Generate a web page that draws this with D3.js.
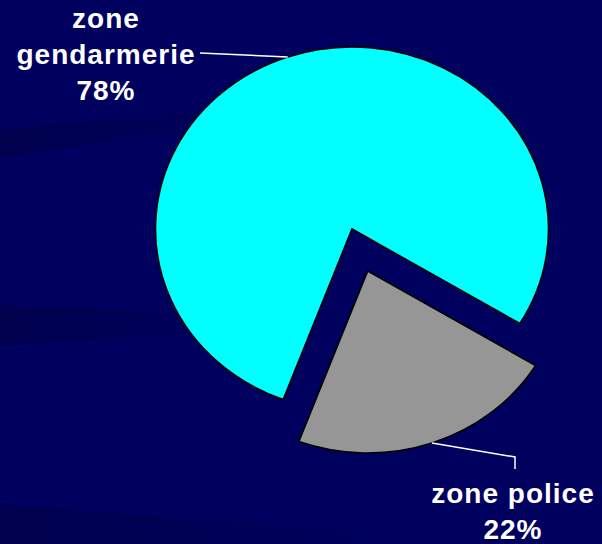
<!DOCTYPE html>
<meta charset="utf-8">
<script src="https://d3js.org/d3.v7.min.js"></script>
<style>
  body { margin: 0; background: #00005e; }
</style>
<div id="chart"></div>
<script>

    // data
    var categories = ["zone gendarmerie", "zone police"];
    var values = [78, 22];
    var percentLabels = ["78%", "22%"];
    var labelLines = [["zone", "gendarmerie", "78%"], ["zone police", "22%"]];
    var colors = ["#00ffff", "#969696"];

    var width = 602, height = 544;
    var cx = 352, cy = 229, rx = 196.5, ry = 182;
    var sy = ry / rx;
    var explode = [0, 48];

    var svg = d3.select("#chart")
      .append("svg")
        .attr("width", width)
        .attr("height", height);

    svg.append("rect")
        .attr("width", width)
        .attr("height", height)
        .attr("fill", "#00005e");

    // faint darker streaks in the background
    var grad = svg.append("defs").append("linearGradient")
        .attr("id", "fade")
        .attr("x1", 0).attr("x2", 1).attr("y1", 0).attr("y2", 0);
    grad.append("stop").attr("offset", "0%").attr("stop-color", "#000040").attr("stop-opacity", 0.55);
    grad.append("stop").attr("offset", "100%").attr("stop-color", "#000040").attr("stop-opacity", 0);

    var streaks = [
      [[0, 130], [300, 101], [300, 110], [0, 158]],
      [[0, 305], [260, 312], [260, 330], [0, 345]],
      [[0, 505], [420, 535], [420, 544], [0, 544]]
    ];
    svg.selectAll(".streak")
      .data(streaks)
      .enter()
      .append("polygon")
        .attr("class", "streak")
        .attr("points", function(d) { return d.join(" "); })
        .attr("fill", "url(#fade)");

    var pie = d3.pie()
        .sort(null)
        .startAngle(200.5 * Math.PI / 180)
        .endAngle(200.5 * Math.PI / 180 + 2 * Math.PI);

    var arcs = pie(values);

    var arc = d3.arc()
        .innerRadius(0)
        .outerRadius(rx);

    function offset(d, i) {
      var mid = (d.startAngle + d.endAngle) / 2;
      return [Math.sin(mid) * explode[i], -Math.cos(mid) * explode[i]];
    }

    // point on the (elliptical) rim at the slice's middle angle, in screen space
    function rimPoint(d, i) {
      var mid = (d.startAngle + d.endAngle) / 2;
      var o = offset(d, i);
      return [cx + Math.sin(mid) * rx + o[0], cy + (-Math.cos(mid) * rx + o[1]) * sy];
    }

    var pieG = svg.append("g")
        .attr("transform", "translate(" + cx + "," + cy + ") scale(1," + sy + ")");

    pieG.selectAll("path")
      .data(arcs)
      .enter()
      .append("path")
        .attr("d", arc)
        .attr("transform", function(d, i) { return "translate(" + offset(d, i) + ")"; })
        .attr("fill", function(d, i) { return colors[i]; })
        .attr("stroke", "#000")
        .attr("stroke-width", 1.6)
        .attr("stroke-linejoin", "miter")
        .attr("vector-effect", "non-scaling-stroke");

    // leader lines
    var p0 = rimPoint(arcs[0], 0);
    svg.append("polyline")
        .attr("points", [p0, [200, 53]].join(" "))
        .attr("fill", "none")
        .attr("stroke", "#fff")
        .attr("stroke-width", 1.5);

    var p1 = rimPoint(arcs[1], 1);
    svg.append("polyline")
        .attr("points", [p1, [515, 457], [515, 469]].join(" "))
        .attr("fill", "none")
        .attr("stroke", "#fff")
        .attr("stroke-width", 1.5);

    // labels
    var labelPos = [[106, 28], [513, 503]];
    labelLines.forEach(function(lines, i) {
      var t = svg.append("text")
          .attr("x", labelPos[i][0])
          .attr("y", labelPos[i][1])
          .attr("text-anchor", "middle")
          .attr("fill", "#fff")
          .attr("font-family", "Liberation Sans, Arial, sans-serif")
          .attr("font-weight", "bold")
          .attr("font-size", "28px")
          .attr("letter-spacing", "1px");
      t.selectAll("tspan")
        .data(lines)
        .enter()
        .append("tspan")
          .attr("x", labelPos[i][0])
          .attr("dy", function(d, j) { return j === 0 ? 0 : 36; })
          .text(function(d) { return d; });
    });

</script>
